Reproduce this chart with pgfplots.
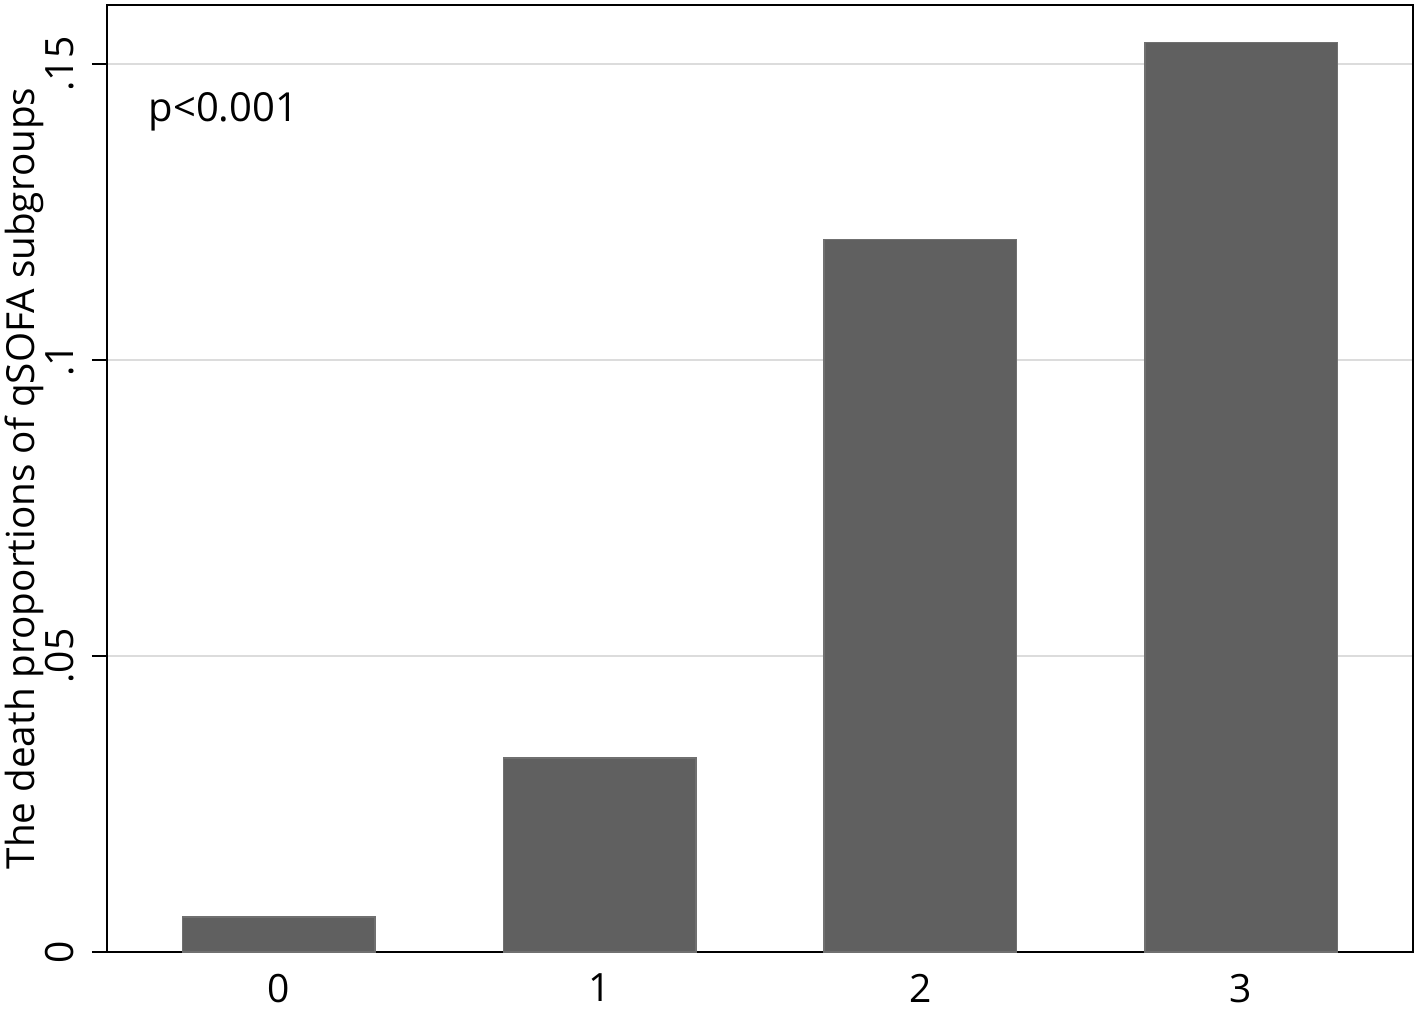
\documentclass[border=0pt]{standalone}
\usepackage{pgfplots}
\pgfplotsset{compat=1.18}
\usepackage{fontspec}
\setmainfont{Open Sans}
\definecolor{barfill}{RGB}{96,96,96}
\definecolor{gridc}{RGB}{220,220,220}
\begin{document}
\begin{tikzpicture}
\begin{axis}[
  name=main,
  scale only axis,
  width=391.8pt, height=284.1pt,
  xmin=-0.536, xmax=3.536,
  ymin=0, ymax=0.16,
  xtick={0,1,2,3},
  xticklabels={0,1,2,3},
  x tick style={draw=none},
  xtick pos=bottom, ytick pos=left,
  ytick={0,0.05,0.1,0.15},
  yticklabels={0,.05,.1,.15},
  yticklabel style={rotate=90, anchor=south, inner ysep=5.1pt, font=\fontsize{11.7}{13}\selectfont},
  xticklabel style={font=\fontsize{11.7}{13}\selectfont, yshift=1.5pt},
  y tick style={black, line width=0.6pt},
  tick align=outside,
  major tick length=4.5pt,
  ymajorgrids,
  grid style={gridc, line width=0.6pt},
  axis line style={black, line width=0.8pt},
  ylabel={The death proportions of qSOFA subgroups},
  every axis y label/.style={at={(axis description cs:-0.0636,0.5)}, rotate=90, anchor=center, font=\fontsize{11.6}{13}\selectfont},
  /pgf/number format/assume math mode=true,
]
\addplot[ybar, bar width=0.6, fill=barfill, draw=barfill!90!white, line width=0.4pt] coordinates {
  (0,0.0059) (1,0.0328) (2,0.1204) (3,0.1537)
};
\node[anchor=base west, font=\fontsize{12}{14}\selectfont] at (axis cs:-0.443,0.1404) {p<0.001};
\end{axis}
\pgfresetboundingbox
\path ([shift={(-32.1pt,-17.4pt)}]main.south west) rectangle ([shift={(1.5pt,1.5pt)}]main.north east);
\end{tikzpicture}
\end{document}
